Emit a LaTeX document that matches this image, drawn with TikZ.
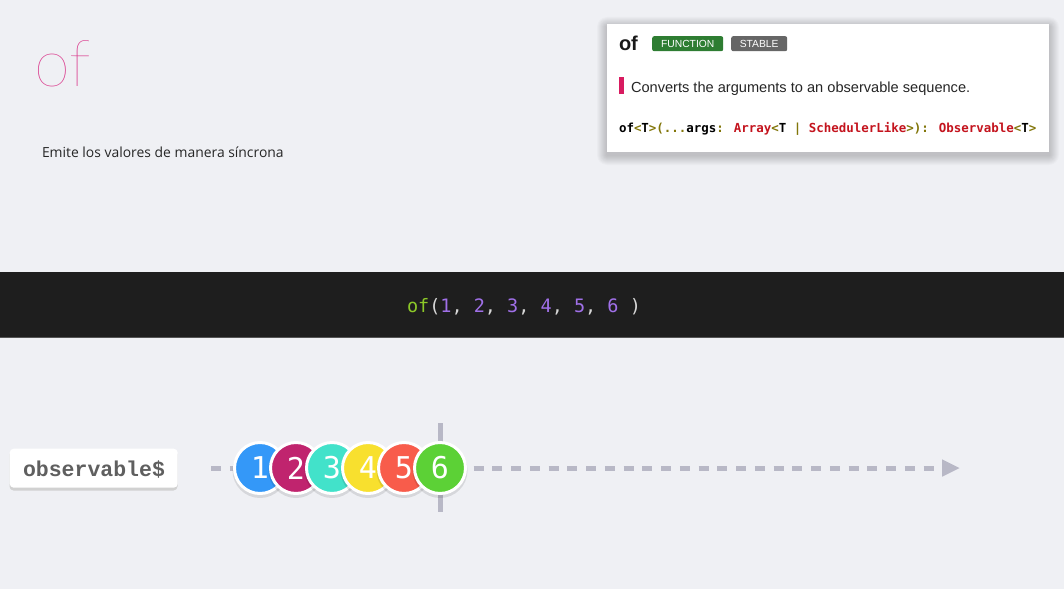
\documentclass[tikz,border=0pt]{standalone}
\usepackage{fontspec}
\usetikzlibrary{arrows.meta}
\setmainfont{Lato}
\newfontfamily\thinfont{Lato}[UprightFont=* Hairline]
\newfontfamily\descfont{Open Sans}
\newfontfamily\codefont{DejaVu Sans Mono}
\newfontfamily\typefont{Liberation Mono}
\newfontfamily\uifont{Liberation Sans}
\definecolor{bg}{RGB}{239,240,244}
\definecolor{band}{RGB}{30,30,30}
\definecolor{bandline}{RGB}{85,85,85}
\definecolor{pinktitle}{RGB}{218,58,140}
\definecolor{fgreen}{RGB}{46,125,50}
\definecolor{sgray}{RGB}{102,102,102}
\definecolor{redbar}{RGB}{216,27,96}
\definecolor{sigred}{RGB}{196,20,30}
\definecolor{sigolive}{RGB}{130,118,10}
\definecolor{codegreen}{RGB}{140,200,40}
\definecolor{codepurple}{RGB}{160,112,232}
\definecolor{codepunc}{RGB}{215,215,215}
\definecolor{tl}{RGB}{184,184,198}
\definecolor{mA}{RGB}{52,152,248}
\definecolor{mB}{RGB}{192,36,110}
\definecolor{mC}{RGB}{66,226,202}
\definecolor{mD}{RGB}{248,224,46}
\definecolor{mE}{RGB}{248,92,75}
\definecolor{mF}{RGB}{92,209,54}
\definecolor{labeltext}{RGB}{95,95,95}
\tikzset{
  txt/.style={anchor=base west, inner sep=0pt, outer sep=0pt},
  badge/.style={rounded corners=2pt, text=white, font=\uifont\fontsize{10.3}{10.3}\selectfont,
    inner sep=0pt, minimum height=15pt, anchor=north west},
  marble/.style={circle, draw=white, line width=3pt, minimum size=51pt, inner sep=0pt,
    text=white, font=\codefont\fontsize{30}{30}\selectfont},
  timeline/.style={draw=tl, line width=5pt},
}
\begin{document}
\begin{tikzpicture}[x=1pt,y=-1pt]
\useasboundingbox (0,0) rectangle (1064,610);
\fill[white] (0,0) rectangle (1064,610);
\fill[bg] (0,0) rectangle (1064,589);
% title and description
\node[txt, text=pinktitle, font=\thinfont\fontsize{65}{65}\selectfont] (title) at (34,86) {of};
\node[txt, text=black!85, font=\descfont\fontsize{13.9}{13.9}\selectfont] (desc) at (42,157) {Emite los valores de manera síncrona};
% code band
\fill[band] (0,272) rectangle (1064,338);
\draw[bandline, line width=1.2pt] (0,337.6) -- (1064,337.6);
\node[txt, font=\codefont\fontsize{18.5}{18.5}\selectfont] (code) at (407,312)
  {{\color{codegreen}of}{\color{codepunc}(}{\color{codepurple}1}{\color{codepunc}, }{\color{codepurple}2}{\color{codepunc}, }{\color{codepurple}3}{\color{codepunc}, }{\color{codepurple}4}{\color{codepunc}, }{\color{codepurple}5}{\color{codepunc}, }{\color{codepurple}6}{\color{codepunc}\ )}};
% card with shadow
\foreach \i in {1,...,10} {
  \fill[black, opacity=0.02, rounded corners=\i pt] (607-\i,24-\i+3) rectangle (1049+\i,152+\i+3);
}
\node[fill=white, minimum width=442pt, minimum height=128pt, anchor=north west, inner sep=0pt] (card) at (607,24) {};
\node[txt, font=\uifont\bfseries\fontsize{20}{20}\selectfont, text=black!90] (cardtitle) at (619,51) {of};
\node[badge, fill=fgreen, minimum width=71pt] (fn) at (652,36) {FUNCTION};
\node[badge, fill=sgray, minimum width=56pt] (stable) at (731,36) {STABLE};
\fill[redbar] (619,77) rectangle (623.5,94);
\node[txt, font=\uifont\fontsize{14.6}{14.6}\selectfont, text=black!85] (summary) at (631,92) {Converts the arguments to an observable sequence.};
\node[txt, font=\codefont\bfseries\fontsize{12.45}{12.45}\selectfont] (sig) at (619,132)
  {of{\color{sigolive}<}T{\color{sigolive}>(...}args{\color{sigolive}: }{\color{sigred}Array}{\color{sigolive}<}T {\color{sigolive}|} {\color{sigred}SchedulerLike}{\color{sigolive}>): }{\color{sigred}Observable}{\color{sigolive}<}T{\color{sigolive}>}};
% observable label
\fill[black!18, rounded corners=4pt] (9.5,450.5) rectangle (177.5,490.5);
\node[fill=white, rounded corners=4pt, minimum width=168pt, minimum height=39pt, anchor=north west, inner sep=0pt] (obs) at (9.5,448.5) {};
\node[txt, font=\typefont\bfseries\fontsize{21.5}{21.5}\selectfont, text=labeltext] (obstext) at (23,476) {observable\$};
% timeline
\coordinate (tstart) at (211,468);
\coordinate (tend) at (960,468);
\coordinate (vtop) at (440,423);
\coordinate (vbot) at (440,512);
\draw[timeline, dash pattern=on 10pt off 8.75pt, -{Triangle[length=18pt,width=16pt]}] (tstart) -- (tend);
\draw[timeline] (vtop) -- (vbot);
% marbles
\foreach \n/\x/\c in {1/260/mA,2/296/mB,3/332/mC,4/368/mD,5/404/mE,6/440/mF} {
  \fill[black, opacity=0.10] (\x,470.5) circle (27.5);
  \node[marble, fill=\c] (m\n) at (\x,468) {\n};
}
\end{tikzpicture}
\end{document}
